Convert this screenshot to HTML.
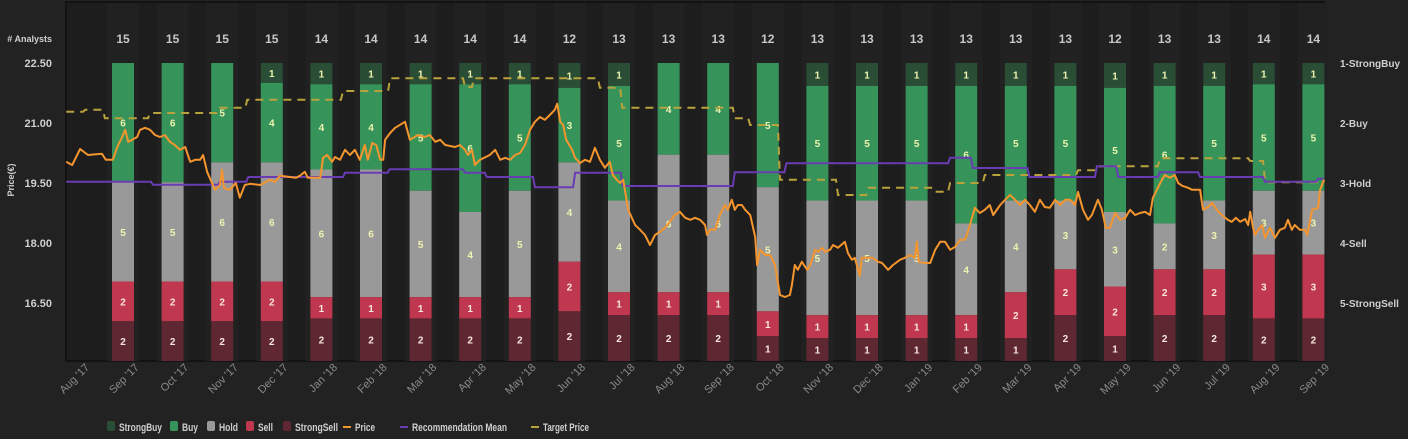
<!DOCTYPE html>
<html><head><meta charset="utf-8"><style>
body{margin:0;background:#222;width:1408px;height:439px;overflow:hidden;font-family:"Liberation Sans",sans-serif}
svg{display:block}
</style></head><body>
<svg id="c" width="1408" height="439" xmlns="http://www.w3.org/2000/svg"></svg>
<script>
const months=["Aug '17","Sep '17","Oct '17","Nov '17","Dec '17","Jan '18","Feb '18","Mar '18","Apr '18","May '18","Jun '18","Jul '18","Aug '18","Sep '18","Oct '18","Nov '18","Dec '18","Jan '19","Feb '19","Mar '19","Apr '19","May '19","Jun '19","Jul '19","Aug '19","Sep '19"];
const strongBuy=[0,0,0,1,1,1,1,1,1,1,1,0,0,0,1,1,1,1,1,1,1,1,1,1,1];
const buy=[6,6,5,4,4,4,5,6,5,3,5,4,4,5,5,5,5,6,5,5,5,6,5,5,5];
const hold=[5,5,6,6,6,6,5,4,5,4,4,6,6,5,5,5,5,4,4,3,3,2,3,3,3];
const sell=[2,2,2,2,1,1,1,1,1,2,1,1,1,1,1,1,1,1,2,2,2,2,2,3,3];
const strongSell=[2,2,2,2,2,2,2,2,2,2,2,2,2,1,1,1,1,1,1,2,1,2,2,2,2];
const priceTicks=[22.5,21,19.5,18,16.5];
const ratingTicks=["1-StrongBuy","2-Buy","3-Hold","4-Sell","5-StrongSell"];
const recMean=[[-0.52,2.98],[1.23,3.03],[2.58,2.98],[3.15,2.90],[5.1,2.83],[6.0,2.77],[7.52,2.83],[7.96,2.90],[8.93,3.07],[9.74,2.83],[10.7,3.05],[12.96,2.82],[14.0,2.67],[17.3,2.58],[17.76,2.75],[18.9,2.90],[20.26,2.72],[20.69,2.90],[21.53,2.82],[22.34,2.90],[23.65,2.98],[24.72,2.93]];
const targetPrice=[[-0.52,21.28],[-0.14,21.33],[0.26,21.12],[1.17,21.25],[2.58,21.38],[3.13,21.58],[5.06,21.8],[6.01,22.12],[7.52,21.9],[7.7,22.12],[10.24,21.88],[10.69,21.38],[12.96,21.12],[13.27,20.95],[13.87,19.58],[15.04,19.2],[15.65,19.38],[17.0,19.28],[17.3,19.5],[18.0,19.7],[19.88,19.82],[20.32,19.92],[21.53,20.12],[23.35,20.05],[23.65,19.52]];
const priceSeries=[[-0.52,20.03],[-0.40,19.95],[-0.24,20.35],[-0.08,20.2],[0.20,20.23],[0.28,20.08],[0.42,20.08],[0.52,20.43],[0.60,20.63],[0.67,20.83],[0.73,20.53],[0.81,20.58],[0.91,20.65],[0.97,20.83],[1.07,20.88],[1.17,20.83],[1.27,20.7],[1.37,20.65],[1.47,20.7],[1.57,20.53],[1.67,20.45],[1.77,20.33],[1.88,20.4],[1.98,20.03],[2.08,20.08],[2.18,20.08],[2.24,20.2],[2.32,19.78],[2.42,19.5],[2.48,19.33],[2.58,19.45],[2.62,19.83],[2.66,19.38],[2.78,19.33],[2.90,19.5],[2.98,19.13],[3.08,19.45],[3.19,19.48],[3.39,19.45],[3.59,19.58],[3.69,19.53],[3.79,19.68],[3.99,19.65],[4.11,19.63],[4.19,19.68],[4.29,19.78],[4.35,19.63],[4.48,19.63],[4.60,19.63],[4.66,20.13],[4.74,20.2],[4.84,20.03],[4.90,20.15],[5.00,20.08],[5.10,20.33],[5.20,20.2],[5.30,20.33],[5.40,20.08],[5.50,20.45],[5.56,20.08],[5.65,20.5],[5.73,20.45],[5.81,20.08],[5.87,20.08],[5.91,20.58],[6.01,20.75],[6.11,20.88],[6.31,21.03],[6.41,20.58],[6.57,20.7],[6.71,20.65],[6.81,20.7],[6.92,20.53],[7.02,20.58],[7.12,20.45],[7.32,20.4],[7.42,20.45],[7.52,20.33],[7.58,20.2],[7.66,20.33],[7.72,19.95],[7.82,20.08],[8.02,20.2],[8.13,20.33],[8.23,20.08],[8.33,20.13],[8.43,20.08],[8.53,20.2],[8.63,20.25],[8.73,20.45],[8.83,20.83],[8.93,21.03],[9.03,21.15],[9.13,21.08],[9.23,21.2],[9.33,21.33],[9.38,21.48],[9.44,21.03],[9.50,20.95],[9.56,20.58],[9.68,20.33],[9.74,20.13],[9.84,20.0],[9.94,20.08],[10.04,20.03],[10.14,20.38],[10.24,20.08],[10.34,19.88],[10.44,20.03],[10.50,19.7],[10.58,19.58],[10.65,19.5],[10.71,19.58],[10.81,18.83],[10.95,18.45],[11.05,18.33],[11.15,18.2],[11.25,17.95],[11.35,18.2],[11.45,18.28],[11.55,18.38],[11.65,18.53],[11.75,18.7],[11.85,18.78],[11.96,18.63],[12.06,18.58],[12.16,18.63],[12.26,18.58],[12.36,18.45],[12.40,18.2],[12.46,18.33],[12.56,18.33],[12.66,18.7],[12.76,18.95],[12.82,18.83],[12.90,19.08],[12.96,18.83],[13.02,18.95],[13.10,18.95],[13.17,18.83],[13.27,18.7],[13.37,18.15],[13.41,17.45],[13.47,17.83],[13.57,17.7],[13.67,17.7],[13.77,17.45],[13.87,16.7],[13.97,16.65],[14.07,16.7],[14.11,16.95],[14.17,17.45],[14.23,17.33],[14.31,17.53],[14.42,17.33],[14.48,17.45],[14.58,17.83],[14.64,17.78],[14.72,17.88],[14.78,17.78],[14.88,17.83],[14.94,17.95],[15.04,17.88],[15.18,18.03],[15.24,17.75],[15.32,17.58],[15.38,17.63],[15.48,17.18],[15.52,17.63],[15.60,17.63],[15.73,17.63],[15.85,17.53],[15.93,17.5],[16.05,17.33],[16.15,17.45],[16.29,17.58],[16.39,17.63],[16.49,17.7],[16.59,17.63],[16.63,18.03],[16.67,17.53],[16.79,17.5],[16.90,17.5],[17.00,17.83],[17.10,18.03],[17.20,18.03],[17.30,17.83],[17.40,17.9],[17.50,18.08],[17.60,18.08],[17.66,18.28],[17.70,18.45],[17.80,18.88],[17.90,18.75],[18.00,18.83],[18.10,18.95],[18.17,18.7],[18.31,18.95],[18.41,19.08],[18.51,19.2],[18.61,19.08],[18.71,18.95],[18.81,19.08],[18.91,18.95],[19.01,18.78],[19.11,19.08],[19.21,18.9],[19.31,18.88],[19.42,19.08],[19.52,18.95],[19.62,19.08],[19.72,19.08],[19.82,18.95],[19.88,19.28],[19.98,18.83],[20.08,18.58],[20.16,18.7],[20.28,19.08],[20.36,18.83],[20.44,18.38],[20.52,18.38],[20.63,18.75],[20.73,18.58],[20.83,18.63],[20.93,18.83],[21.03,18.7],[21.13,18.75],[21.23,18.78],[21.33,18.7],[21.39,19.13],[21.49,19.38],[21.57,19.58],[21.63,19.7],[21.73,19.63],[21.83,19.7],[21.90,19.5],[21.98,19.43],[22.10,19.38],[22.18,19.33],[22.34,19.33],[22.40,18.83],[22.50,18.9],[22.58,19.0],[22.68,18.83],[22.78,18.7],[22.90,18.58],[22.98,18.53],[23.06,18.63],[23.15,18.53],[23.25,18.6],[23.31,18.45],[23.35,18.78],[23.41,18.38],[23.45,18.2],[23.51,18.33],[23.59,18.45],[23.65,18.13],[23.75,18.38],[23.85,18.13],[23.95,18.33],[24.05,18.38],[24.11,18.58],[24.19,18.33],[24.25,18.45],[24.35,18.33],[24.46,18.33],[24.50,18.2],[24.60,18.83],[24.72,18.88],[24.76,19.33],[24.84,19.58]];

const NS="http://www.w3.org/2000/svg";
const svg=document.getElementById('c');
const L=66,R=1324,T=2,B=361,BT=63;
const xM=m=>92+49.6*m;
const yP=p=>63+(22.5-p)*40;
const yR=r=>63+(r-1)*60;
function mk(tag,attrs,parent){const e=document.createElementNS(NS,tag);for(const k in attrs)e.setAttribute(k,attrs[k]);(parent||svg).appendChild(e);return e;}
function txt(x,y,s,attrs){const e=mk('text',Object.assign({x:x,y:y},attrs||{}));e.textContent=s;return e;}

const bg=mk('rect',{x:L,y:T,width:R-L,height:B-T,fill:'#1d1d1d',stroke:'#0e0e0e','stroke-width':1.5});



const colors=['#2a4d35','#36945a','#999999','#c0384f','#5e2732'];
const series=[strongBuy,buy,hold,sell,strongSell];
const segNames=['strongbuy','buy','hold','sell','strongsell'];
for(let i=0;i<strongBuy.length;i++){
  const cx=xM(i+1)-18.6;
  const band=mk('rect',{x:cx-16,y:T+1,width:32,height:B-T-1,fill:'#212121'});
  
  
  const total=series.reduce((a,s)=>a+s[i],0);
  const ct=txt(cx,43,String(total),{fill:'#c8c8c8','font-size':12,'font-weight':'bold','text-anchor':'middle'});
  
  
  let y=BT;
  for(let k=0;k<5;k++){
    const v=series[k][i];if(!v)continue;
    const h=v/total*(B-BT);
    const r=mk('rect',{x:cx-11,y:y,width:22,height:h,fill:colors[k]});
    
    
    const t=txt(cx,y+h/2+4,String(v),{fill:k<3?'#eef3b0':'#f6e6dc','font-size':10,'font-weight':'bold','text-anchor':'middle'});
    
    
    y+=h;
  }
}
function stepPath(arr,yf,endM){let d='';for(let i=0;i<arr.length;i++){const x=xM(arr[i][0]),y=yf(arr[i][1]);if(i===0)d+='M'+x+','+y;else d+='L'+(x-2)+','+yf(arr[i-1][1])+'L'+x+','+y;}d+='L'+xM(endM)+','+yf(arr[arr.length-1][1]);return d;}
const tp=mk('path',{d:stepPath(targetPrice,yP,24.84),fill:'none',stroke:'#b9a23c','stroke-width':2,'stroke-dasharray':'8,6'});


const rm=mk('path',{d:stepPath(recMean,yR,24.84),fill:'none',stroke:'#6a3cb4','stroke-width':2});


const pp=mk('path',{d:priceSeries.map((p,i)=>(i?'L':'M')+xM(p[0]).toFixed(1)+','+yP(p[1]).toFixed(1)).join(''),fill:'none',stroke:'#f5952e','stroke-width':2,'stroke-linejoin':'round'});



priceTicks.forEach(p=>{const t=txt(52,yP(p)+4,p.toFixed(2),{fill:'#cfcfcf','font-size':11,'font-weight':'bold','text-anchor':'end'});

});
ratingTicks.forEach((s,i)=>{const t=txt(1340,yR(i+1)+4,s,{fill:'#cfcfcf','font-size':10,'font-weight':'bold'});

});
const an=txt(52,42,'# Analysts',{fill:'#cfcfcf','font-size':9,'font-weight':'bold','text-anchor':'end'});


const yt=txt(0,0,'Price(€)',{fill:'#cfcfcf','font-size':9,'font-weight':'bold','text-anchor':'middle',transform:'translate(14,180) rotate(-90)'});


months.forEach((m,i)=>{const x=xM(i)-2;const t=txt(0,0,m,{fill:'#8a8a8a','font-size':11,'text-anchor':'end',transform:'translate('+x+',368) rotate(-45)'});

});

const leg=[['StrongBuy',107,'#2a4d35','sq',43],['Buy',170,'#36945a','sq',16],['Hold',207,'#999999','sq',19],['Sell',246,'#c0384f','sq',15],['StrongSell',283,'#5e2732','sq',43],['Price',343,'#f5952e','ln',20],['Recommendation Mean',400,'#6a3cb4','ln',95],['Target Price',531,'#b9a23c','ln',46]];
leg.forEach(l=>{const g=mk('g',{});


let tx;
if(l[3]==='sq'){mk('rect',{x:l[1],y:421,width:8,height:10,rx:2,fill:l[2]},g);tx=l[1]+12;}
else{mk('line',{x1:l[1],y1:427,x2:l[1]+8,y2:427,stroke:l[2],'stroke-width':2},g);tx=l[1]+12;}
const t=txt(tx,431,l[0],{fill:'#cfcfcf','font-size':11,'font-weight':'bold',textLength:l[4],lengthAdjust:'spacingAndGlyphs'});g.appendChild(t);});
</script>
</body></html>
